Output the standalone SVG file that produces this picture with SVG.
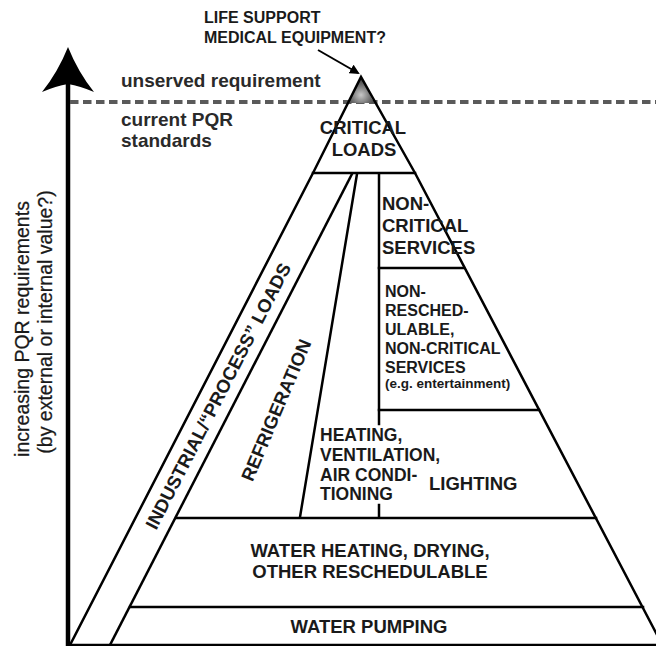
<svg xmlns="http://www.w3.org/2000/svg" width="656" height="646" viewBox="0 0 656 646">
<defs>
<style>
.ln{stroke:#000;stroke-width:2.5;fill:none;stroke-linecap:square}
.b{font-family:"Liberation Sans",Arial,sans-serif;font-weight:bold;fill:#1a1a1a}
.big{font-size:18.5px}
.mid{font-size:16px}
.ax{font-family:"Liberation Sans",Arial,sans-serif;font-size:19.5px;fill:#1a1a1a;stroke:#1a1a1a;stroke-width:0.25}
.top{font-size:19px;fill:#2a2a2a}
</style>
<radialGradient id="shade" cx="361" cy="95" r="18" gradientUnits="userSpaceOnUse">
<stop offset="0" stop-color="#c8c8c8"/>
<stop offset="0.6" stop-color="#666"/>
<stop offset="1" stop-color="#333"/>
</radialGradient>
<marker id="ah" markerWidth="10" markerHeight="10" refX="8" refY="5" orient="auto" markerUnits="userSpaceOnUse">
<path d="M0,0 L10,5 L0,10 Z" fill="#000"/>
</marker>
</defs>

<g id="axis">
<line x1="68" y1="80" x2="68" y2="646" stroke="#000" stroke-width="4.5"/>
<path d="M68,47 Q58,72 42,92 Q56,86 68,84 Q80,86 94,92 Q78,72 68,47 Z" fill="#000"/>
<text class="ax" transform="translate(29,329) rotate(-90)" text-anchor="middle">increasing PQR requirements</text>
<text class="ax" transform="translate(52,322) rotate(-90)" text-anchor="middle">(by external or internal value?)</text>
</g>

<g id="standard-line">
<line x1="70" y1="102" x2="656" y2="102" stroke="#5a5a5a" stroke-width="4" stroke-dasharray="8.5 4.5"/>
<text class="b top" x="121" y="87">unserved requirement</text>
<text class="b top" x="121" y="126">current PQR</text>
<text class="b top" x="121" y="147">standards</text>
</g>

<g id="life-support">
<path d="M361,77 L348,103 L374,103 Z" fill="url(#shade)"/>
<text class="b mid" x="204" y="23">LIFE SUPPORT</text>
<text class="b mid" x="204" y="43">MEDICAL EQUIPMENT?</text>
</g>

<g id="connectors">
<line x1="318" y1="50" x2="358" y2="73" stroke="#000" stroke-width="2" marker-end="url(#ah)"/>
</g>

<g id="pyramid-lines">
<path class="ln" d="M70,645 L313,173 L361,77 L415,173 L665,650"/>
<line class="ln" x1="313" y1="173" x2="415" y2="173"/>
<line class="ln" x1="352" y1="174" x2="110" y2="645"/>
<line class="ln" x1="357" y1="174" x2="300" y2="517"/>
<line class="ln" x1="379" y1="174" x2="379" y2="424"/>
<line class="ln" x1="379" y1="505" x2="379" y2="517"/>
<line class="ln" x1="379" y1="268" x2="464" y2="268"/>
<line class="ln" x1="379" y1="410" x2="539" y2="410"/>
<line class="ln" x1="176" y1="518" x2="596" y2="518"/>
<line class="ln" x1="130" y1="607" x2="643" y2="607"/>
<line class="ln" x1="68" y1="645" x2="656" y2="645"/>
</g>

<g id="critical-loads">
<text class="b big" x="363" y="134" text-anchor="middle">CRITICAL</text>
<text class="b big" x="364" y="156" text-anchor="middle">LOADS</text>
</g>

<g id="non-critical-services">
<text class="b big" x="382" y="210">NON-</text>
<text class="b big" x="382" y="232">CRITICAL</text>
<text class="b big" x="382" y="254">SERVICES</text>
</g>

<g id="non-reschedulable">
<text class="b mid" x="385" y="297">NON-</text>
<text class="b mid" x="385" y="316">RESCHED-</text>
<text class="b mid" x="385" y="335">ULABLE,</text>
<text class="b mid" x="385" y="354">NON-CRITICAL</text>
<text class="b mid" x="385" y="373">SERVICES</text>
<text class="b" x="385" y="388" font-size="13.5">(e.g. entertainment)</text>
</g>

<g id="industrial">
<text class="b big" transform="translate(218,396) rotate(-62.8)" x="0" y="6.6" text-anchor="middle">INDUSTRIAL/“PROCESS” LOADS</text>
</g>

<g id="refrigeration">
<text class="b big" transform="translate(276,410) rotate(-67)" x="0" y="6.6" text-anchor="middle">REFRIGERATION</text>
</g>

<g id="hvac">
<text class="b" font-size="17.5" x="320" y="441">HEATING,</text>
<text class="b" font-size="17.5" x="320" y="461">VENTILATION,</text>
<text class="b" font-size="17.5" x="320" y="481">AIR CONDI-</text>
<text class="b" font-size="17.5" x="320" y="500">TIONING</text>
</g>

<g id="lighting">
<text class="b big" x="429" y="490">LIGHTING</text>
</g>

<g id="water-heating">
<text class="b big" x="370" y="557" text-anchor="middle">WATER HEATING, DRYING,</text>
<text class="b big" x="370" y="578" text-anchor="middle">OTHER RESCHEDULABLE</text>
</g>

<g id="water-pumping">
<text class="b big" x="369" y="633" text-anchor="middle">WATER PUMPING</text>
</g>
</svg>
